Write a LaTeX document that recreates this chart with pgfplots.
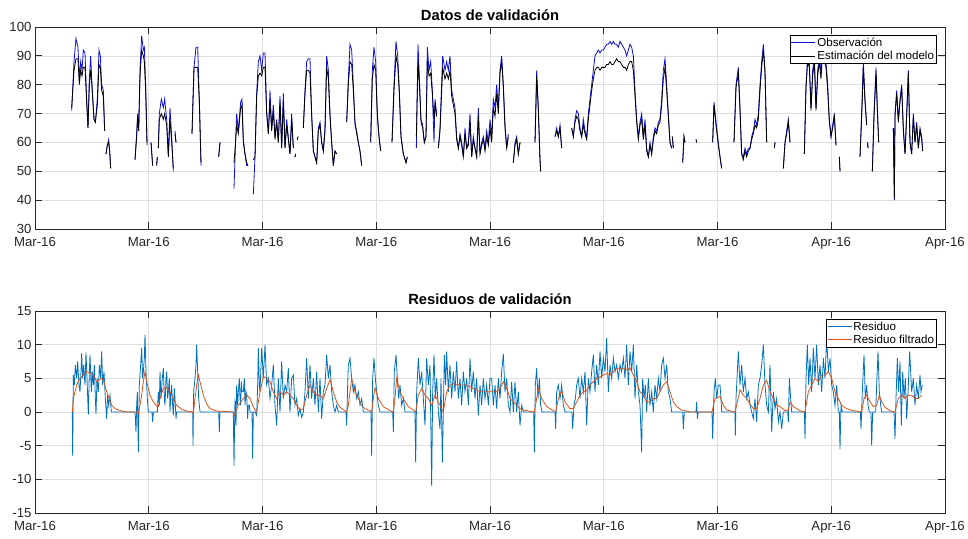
\documentclass[border=0pt]{standalone}
\usepackage{fontspec}
\setmainfont{Liberation Sans}
\usepackage{pgfplots}
\usepackage{pgfplotstable}
\pgfplotsset{compat=1.18}
\definecolor{mblue}{rgb}{0,0.447,0.741}
\definecolor{morange}{rgb}{0.85,0.325,0.098}
\definecolor{axgray}{rgb}{0.15,0.15,0.15}
\definecolor{obsblue}{rgb}{0.05,0.05,0.85}

% x = time index (3 units per pixel column of the original chart)
\pgfplotstableread{
x obs est
215 71 72
222 88 85
228 96 89
234 93 89
238 82 80
242 88 85
246 85 83
250 92 86
255 91 86
260 75 74
264 65 65
268 82 80
272 90 85
276 80 79
282 68 68
286 67 67
292 75 73
297 92 87
301 90 86
305 80 78
310 78 76
314 64 64
316 nan nan
318 56 56
322 59 59
326 61 60
329 57 57
332 51 51
360 nan nan
405 54 54
410 63 62
413 70 69
416 64 64
420 85 83
425 97 92
430 92 90
433 93 88
437 80 78
441 60 59
447 nan nan
453 60 60
458 52 52
464 nan nan
470 52 52
472 55 55
473 nan nan
475 58 58
478 70 68
484 75 70
490 72 68
494 75 70
500 68 66
505 56 55
510 72 68
515 62 60
520 50 51
522 nan nan
525 64 63
528 60 60
550 nan nan
576 63 63
582 86 86
588 93 86
593 93 86
598 75 74
603 52 53
630 nan nan
656 55 55
660 60 60
680 nan nan
702 44 53
706 58 59
710 70 66
715 64 63
722 74 72
726 75 73
730 61 60
735 56 56
740 52 53
744 52 52
750 nan nan
760 42 54
765 55 55
770 77 76
775 88 83
780 90 84
785 85 83
790 91 86
795 91 86
800 71 70
805 63 63
810 78 74
815 65 64
820 73 71
825 62 61
830 68 67
835 60 60
840 76 74
845 58 58
850 77 74
855 58 58
860 68 66
865 62 61
870 56 56
875 70 68
880 58 58
883 nan nan
885 55 55
887 56 56
889 nan nan
892 61 61
894 62 62
900 nan nan
910 65 65
915 78 77
920 88 85
925 89 85
930 89 84
935 70 69
940 57 57
945 55 55
950 53 53
955 65 64
960 67 66
965 60 60
970 57 57
975 65 64
980 90 86
985 85 82
990 70 69
995 60 60
1000 52 52
1005 57 57
1010 56 56
1020 nan nan
1040 67 67
1045 82 80
1050 94 88
1055 92 87
1060 80 78
1065 66 67
1070 64 63
1075 60 60
1080 57 57
1085 52 52
1100 nan nan
1112 60 60
1117 85 82
1122 93 87
1127 88 85
1132 70 69
1137 62 62
1142 57 57
1160 nan nan
1176 60 60
1182 80 78
1188 95 90
1193 90 87
1198 78 77
1203 62 62
1210 56 56
1218 53 53
1222 55 55
1235 nan nan
1249 58 62
1254 94 88
1259 80 78
1263 68 67
1268 66 65
1273 60 60
1278 62 62
1282 93 88
1287 85 83
1292 88 84
1297 78 77
1302 60 68
1305 75 73
1310 70 69
1312 nan nan
1315 58 58
1320 65 64
1328 90 86
1335 85 82
1340 88 84
1345 85 82
1350 90 85
1355 78 76
1360 75 73
1365 72 70
1370 62 61
1375 58 58
1380 63 62
1385 60 59
1390 55 55
1395 65 63
1400 58 58
1405 60 59
1410 70 67
1415 55 55
1420 62 61
1425 58 58
1430 55 55
1435 72 69
1440 56 56
1445 60 59
1450 62 61
1455 58 57
1460 64 62
1465 60 59
1470 68 65
1475 62 60
1480 75 72
1485 72 69
1490 80 77
1495 72 70
1500 85 84
1505 90 88
1510 80 79
1515 66 65
1520 58 58
1525 63 62
1530 nan nan
1540 53 53
1545 60 59
1550 62 61
1555 56 56
1560 60 60
1580 nan nan
1605 60 60
1610 85 83
1615 72 71
1620 54 54
1622 50 50
1640 nan nan
1665 62 62
1670 65 64
1675 62 62
1680 66 65
1685 58 58
1700 nan nan
1715 65 65
1720 62 62
1725 68 67
1730 71 69
1735 70 68
1740 65 64
1745 62 62
1750 68 66
1755 64 63
1760 62 61
1765 70 68
1770 75 73
1775 80 78
1780 85 82
1785 90 85
1790 91 86
1795 92 86
1800 91 85
1805 92 86
1810 92 86
1815 93 86
1820 94 87
1825 94 87
1830 95 88
1835 94 87
1840 95 87
1845 94 88
1850 94 89
1855 93 88
1860 95 88
1865 94 87
1870 93 86
1875 92 86
1880 90 85
1885 92 87
1890 94 88
1895 93 88
1900 90 85
1905 78 76
1910 68 67
1915 62 61
1920 67 66
1925 70 68
1930 62 61
1935 68 66
1940 58 57
1945 55 55
1950 60 59
1955 56 56
1960 62 61
1965 65 64
1970 64 63
1975 67 66
1980 68 67
1985 75 73
1990 85 82
1995 89 86
2000 80 78
2005 70 69
2010 60 60
2015 58 58
2016 nan nan
2017 62 62
2020 58 58
2030 nan nan
2048 53 53
2052 62 62
2055 60 60
2070 nan nan
2088 61 61
2090 60 60
2110 nan nan
2138 60 60
2142 74 73
2148 67 66
2155 60 59
2160 55 55
2165 51 51
2180 nan nan
2202 60 60
2208 80 79
2215 86 84
2220 72 71
2225 56 56
2230 55 54
2235 58 57
2240 56 55
2245 58 57
2250 58 58
2255 62 61
2260 64 63
2265 68 66
2270 66 65
2275 70 68
2280 80 78
2285 88 86
2290 94 92
2295 85 84
2300 60 60
2310 nan nan
2323 58 58
2325 60 60
2330 nan nan
2350 51 51
2355 60 60
2360 64 63
2365 68 67
2370 60 60
2390 nan nan
2413 56 56
2418 80 79
2423 90 88
2428 88 86
2433 72 71
2438 85 83
2443 90 88
2448 72 71
2453 85 83
2458 90 88
2463 84 82
2468 93 92
2473 90 88
2478 88 86
2483 80 78
2488 68 67
2493 62 62
2498 66 65
2503 70 69
2508 59 59
2512 nan nan
2518 55 55
2520 50 50
2550 nan nan
2580 55 55
2585 70 69
2590 88 86
2595 75 74
2600 66 66
2601 nan nan
2603 60 60
2604 58 58
2610 nan nan
2617 50 50
2622 70 69
2628 86 84
2632 72 71
2636 60 60
2660 nan nan
2680 65 65
2683 40 41
2685 70 69
2690 78 77
2695 68 67
2700 75 74
2705 80 79
2710 65 64
2715 56 56
2720 70 69
2725 85 84
2730 60 60
2735 56 56
2740 70 69
2745 60 60
2750 67 66
2755 58 58
2760 65 64
2765 62 61
2768 57 57
}\datos

\pgfplotstableread{
x r
217 0
218 -6.5
220 5.5
223 4
226 7
230 5
233 7.5
237 4
240 3
243 6
245 8.7
248 5
251 7
255 4
258 8.8
261 5
265 -0.4
268 6
270 8.5
274 3
277 6
280 4
283 7
286 2
288 -0.3
291 5
295 3
298 7
302 5
305 9
308 4
312 6
316 2
320 -1
323 2.5
326 1
330 2.5
333 0.5
335 0
405 0
406 -1
408 -3
410 1
412 3
415 -6
418 4
422 7
425 9.5
428 5
430 6
433 8
435 11.5
438 6
440 4
442 2
445 0
456 0
458 -1.5
460 0
472 0
475 3
478 1
480 6
483 2
486 4.5
490 6.5
493 2
495 1
498 5
500 6
503 2
505 3
508 5
510 0
513 3
515 4
518 1
520 -0.5
523 3.5
525 2
528 -1
530 0
578 0
579 -5
581 3
585 5
588 7
590 10
593 6
596 2
600 0
656 0
658 -3
660 0
700 0
702 -8
705 2
708 -2
710 4
713 1
715 3
718 5
720 2
722 1
724 4.5
726 3
730 3
733 5
735 1
738 3
740 2.5
743 -1
745 1
748 1
750 0
756 0
758 -7
760 0
765 0
770 -0.5
773 4
775 9.5
778 4
780 3
785 9.5
790 5
795 10
800 4
805 5
810 2
815 4
820 7
825 1
830 -2
835 5
840 0
845 7.5
850 2
855 4
860 3
865 6.5
870 0
875 5
880 5.5
885 1
890 2
895 -0.5
900 0.5
905 -0.8
910 0
915 3
920 8
925 2
930 7
935 2
940 5
945 1
950 6
955 0
960 5
965 -1
970 3
975 4
980 8.5
985 5
990 7
995 3
1000 1
1005 0
1010 1
1015 0
1038 0
1040 -2
1043 4
1045 7
1050 8
1055 5
1060 3
1065 4
1070 2
1075 3
1080 1
1085 2
1090 0
1113 0
1115 -6.5
1118 5
1122 8
1126 5
1130 3
1135 1
1140 0
1178 0
1180 -3
1183 6
1188 8.5
1192 5
1196 2
1200 4
1205 1
1210 2
1215 0
1245 0
1247 -7.5
1250 3
1255 8
1260 4
1265 6
1270 2
1275 -2
1280 8
1285 4
1290 7
1295 -11
1298 3
1302 8.5
1306 2
1310 5
1315 0
1320 -2.5
1323 5
1327 -7.5
1330 0
1333 8.5
1337 4
1340 9
1345 3
1350 7
1355 2
1360 6
1365 3
1370 7.5
1375 2
1380 5
1385 1
1390 6
1395 3
1400 5
1405 1
1410 8
1415 3
1420 6
1425 2
1430 5
1435 -0.5
1440 4
1445 1
1450 5
1455 2
1460 4
1465 1
1470 5
1475 5
1480 1
1485 4
1490 0.5
1495 5
1500 2
1505 6
1510 8.6
1515 3
1520 5
1525 1
1530 0
1535 4.5
1540 0
1545 4.5
1550 0
1555 3
1560 -2
1565 1
1570 0
1601 0
1603 -6
1606 4
1610 6.5
1614 2
1618 5
1622 1
1626 0
1665 0
1667 -2.5
1670 3
1675 4
1680 2
1685 4
1690 1
1695 0
1716 0
1718 -2.5
1722 1
1726 2
1730 4
1735 5
1740 2
1745 5
1750 3
1755 6
1760 -2
1765 5
1770 3
1775 6
1780 8.5
1785 3
1790 7
1795 4
1800 9
1805 5
1810 8
1815 6
1820 11
1825 3
1830 7
1835 5
1840 8
1845 6
1850 7
1855 5
1860 7
1865 6
1870 8
1875 5
1880 10
1885 4
1890 9
1895 6
1900 10
1905 2
1910 7
1915 3
1920 1
1925 -6
1928 5
1932 2
1936 4
1940 0
1945 5
1950 1
1955 3
1960 0
1965 4
1970 2
1975 5
1980 3
1985 7
1990 8
1995 5
2000 7
2005 3
2010 2
2015 0
2048 0
2050 -2.5
2053 0
2088 0
2090 1.5
2092 -1
2095 0
2136 0
2138 -4
2142 3
2146 5
2150 2
2155 4
2160 4
2163 2
2165 0
2205 0
2206 -3.5
2208 2
2212 6
2215 9
2220 4
2225 7
2230 3
2235 5
2240 2
2245 3
2250 1
2255 0
2260 -1
2265 2
2270 -1.5
2275 4
2280 5
2285 7
2290 10
2295 4
2300 1
2305 0
2310 7
2315 -3
2320 3
2325 0.5
2330 2
2335 -1.5
2340 0
2345 -2.5
2350 0
2363 0
2365 -1.5
2368 5
2372 2
2375 0
2413 0
2415 -4
2418 5
2422 10
2426 4
2430 8
2435 3
2440 9.5
2445 5
2450 10
2455 4
2460 7
2465 3
2470 8
2475 5
2480 11
2485 6
2490 8
2495 4
2500 3
2505 1
2510 4
2515 0
2518 0
2520 -5.5
2523 1
2527 0
2581 0
2583 -2.5
2587 3
2592 8.5
2596 2
2600 4
2604 1
2608 0
2613 0
2615 -5
2618 0
2627 0
2630 4
2634 9
2638 3
2642 1
2645 0
2682 0
2685 -4
2688 2
2692 8
2696 3
2700 7.5
2704 -2
2708 6
2712 2
2716 5
2720 -1
2725 4
2729 9
2735 3
2740 5
2745 1
2750 4
2755 2
2760 5.5
2763 3
2767 4
}\residuo

\pgfplotstableread{
x f
217 0
220 2
230 4
240 5
250 5.5
260 6
270 5.8
280 5.5
290 4.5
298 4.8
305 5
312 4.5
320 3
328 2
335 1
345 0.5
355 0.3
370 0.1
380 0
405 0
410 0
415 -0.3
420 1
425 2.5
430 4.5
435 6
440 4.5
445 3.5
450 2.5
460 1.5
470 0.9
475 0.8
480 2
490 3.5
500 3.7
510 3
520 2
530 1
545 0.4
560 0.15
578 0
580 -0.3
585 2
590 4
595 5.5
600 4.5
610 2.5
620 1.2
630 0.5
650 0.15
700 0
702 -0.5
705 -0.3
715 1
730 2
740 2.5
750 2
758 1
765 0.3
770 0
780 3
790 5.3
800 5
810 4.5
820 3
830 2
840 3
850 2.5
860 3
870 2.5
880 2
890 1
900 0.3
910 0.5
920 2.5
930 4
940 3
950 2.5
960 2.5
970 2
980 3.5
990 4.8
1000 3
1010 1.5
1020 0.7
1035 0.2
1040 0
1045 1
1055 5
1065 3
1075 2
1085 1
1095 0.5
1110 0.2
1115 0
1120 2
1125 3.6
1135 2
1150 0.8
1170 0.2
1180 0
1185 2
1190 5
1200 3
1210 2
1225 0.8
1240 0.3
1247 0
1255 2.5
1265 3.5
1275 2.5
1285 2
1295 1
1305 2.5
1315 1.5
1325 0.5
1330 0
1340 3
1350 4
1360 4.2
1380 4
1400 4
1420 3.5
1440 3
1460 3
1480 3
1490 3
1500 3.5
1510 4.5
1520 3.5
1530 2
1540 1.5
1550 1
1560 0.5
1570 0.3
1590 0.1
1603 0
1610 2
1615 3.5
1625 2
1640 0.8
1660 0.2
1667 0
1675 2
1685 3.2
1695 1.5
1710 0.5
1720 0.5
1730 1.5
1740 2.5
1750 3
1760 3.2
1770 4
1780 4.5
1790 5
1800 5.2
1810 5.5
1820 5.7
1830 5.5
1840 6
1850 6.5
1860 6.5
1870 6.5
1880 6.3
1890 6.5
1900 5.5
1910 4.5
1920 3
1930 2.5
1940 1.5
1950 1.5
1960 2
1970 2
1980 3
1990 4
2000 4.5
2010 3
2020 1.5
2030 0.8
2045 0.3
2070 0
2136 0
2145 2
2160 2.3
2170 1
2180 0.3
2205 0
2210 1
2220 3.3
2230 2.5
2240 2
2250 1.2
2260 0.5
2270 0.5
2280 2
2290 4
2300 4.7
2310 3
2320 2
2330 1
2340 0.8
2355 0.2
2365 0.3
2370 1.5
2380 0.8
2400 0.2
2415 0
2425 3
2435 4
2445 5
2455 4.5
2465 5.5
2475 5.5
2485 6
2495 5
2505 3
2515 2
2525 1
2540 0.5
2560 0.2
2585 0
2592 2
2600 2.5
2610 1.5
2620 0.8
2630 1
2638 2.5
2645 1.5
2655 0.7
2670 0.2
2685 0
2695 2
2705 2.5
2715 2
2725 2.5
2735 2.5
2745 2
2755 2
2765 2.5
}\filtrado

\pgfplotsset{
  matlabaxis/.style={
    scale only axis, width=910pt, height=202pt,
    xmin=105, xmax=2835,
    xtick={105,446.25,787.5,1128.75,1470,1811.25,2152.5,2493.75,2835},
    xticklabels={Mar-16,Mar-16,Mar-16,Mar-16,Mar-16,Mar-16,Mar-16,Apr-16,Apr-16},
    grid=major,
    major grid style={color=black!13, line width=0.6pt},
    axis line style={color=axgray, line width=0.9pt},
    tick align=inside,
    major tick length=7pt,
    tick style={color=axgray, line width=0.9pt},
    ticklabel style={font=\fontsize{13.2}{15}\selectfont, color=axgray},
    xticklabel style={yshift=-4.5pt},
    /pgf/number format/assume math mode=true,
    title style={font=\bfseries\fontsize{14.7}{17}\selectfont, color=black, yshift=-3pt},
    unbounded coords=jump,
    legend cell align=left,
    legend style={at={(0.991,0.96)}, anchor=north east, draw=black, line width=0.6pt,
      font=\fontsize{11.6}{13}\selectfont, inner sep=1pt, row sep=0pt,
      nodes={inner sep=1.5pt}},
    legend image code/.code={\draw[##1, line width=0.8pt] (0pt,0pt) -- (24pt,0pt);},
  }
}

\begin{document}
\begin{tikzpicture}
\useasboundingbox (-35pt,27pt) rectangle (933pt,-511pt);
\begin{axis}[matlabaxis, at={(0pt,0pt)}, anchor=north west,
  ymin=30, ymax=100, ytick={30,40,...,100},
  title={Datos de validación}]
\addplot[color=obsblue, line width=0.8pt] table[x=x, y=obs] {\datos};
\addlegendentry{Observación}
\addplot[color=black, line width=0.8pt] table[x=x, y=est] {\datos};
\addlegendentry{Estimación del modelo}
\end{axis}
\begin{axis}[matlabaxis, at={(0pt,-284pt)}, anchor=north west,
  ymin=-15, ymax=15, ytick={-15,-10,...,15},
  title={Residuos de validación}]
\addplot[color=mblue, line width=0.8pt] table[x=x, y=r] {\residuo};
\addlegendentry{Residuo}
\addplot[color=morange, line width=0.8pt] table[x=x, y=f] {\filtrado};
\addlegendentry{Residuo filtrado}
\end{axis}
\end{tikzpicture}
\end{document}
